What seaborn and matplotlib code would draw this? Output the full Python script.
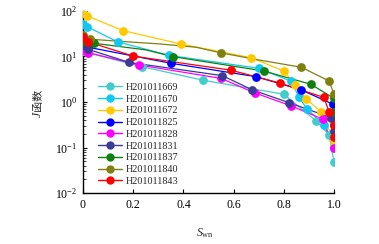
import matplotlib
matplotlib.use("Agg")
import matplotlib.pyplot as plt
import numpy as np
import seaborn as sns
from matplotlib.lines import Line2D
from matplotlib.ticker import FixedLocator, LogLocator, NullFormatter

NAMES = ["H201011669", "H201011670", "H201011672", "H201011825", "H201011828",
         "H201011831", "H201011837", "H201011840", "H201011843"]
COLORS = ["#44CCCC", "#11C8F0", "#FFC800", "#0000FF", "#FF00FF",
          "#3A3A99", "#108010", "#808010", "#FF0000"]

# Swn / J-function samples; MARKS = indices drawn with a dot
S_1669 = [0, 0.02, 0.234, 0.48, 0.80, 0.93, 0.98, 1.0]
J_1669 = [13, 12, 6.0, 3.0, 1.48, 0.38, 0.19, 0.048]
S_1670 = [0, 0.017, 0.138, 0.343, 0.70, 0.83, 0.86, 0.892, 0.96, 1.0]
J_1670 = [52, 45, 21, 10.6, 5.5, 2.85, 1.3, 0.70, 0.32, 0.10]
S_1672 = [0, 0.016, 0.16, 0.39, 0.67, 0.80, 0.845, 0.89, 0.95, 1.0]
J_1672 = [89, 78, 37, 18.8, 9.4, 4.8, 2.4, 1.16, 0.60, 0.14]
S_1825 = [0, 0.02, 0.35, 0.69, 0.87, 0.995, 0.998, 1.0]
J_1825 = [18, 16, 7.1, 3.6, 1.84, 0.9, 0.55, 0.31]
S_1828 = [0, 0.02, 0.224, 0.55, 0.685, 0.83, 0.955, 1.0]
J_1828 = [14, 12.2, 6.5, 3.3, 1.58, 0.82, 0.42, 0.10]
S_1831 = [0, 0.02, 0.185, 0.555, 0.675, 0.82, 0.99, 1.0]
J_1831 = [18, 14.4, 7.4, 3.8, 1.84, 0.97, 0.45, 0.23]
S_1837 = [0, 0.045, 0.25, 0.36, 0.72, 0.908, 1.0, 1.0]
J_1837 = [22, 19.5, 14, 9.9, 4.8, 2.45, 1.2, 0.61]
S_1840 = [0, 0.028, 0.15, 0.30, 0.45, 0.55, 0.70, 0.87, 0.98, 1.0]
J_1840 = [29, 24, 21.5, 19, 16, 12, 8.4, 5.8, 2.9, 1.5]
S_1843 = [0, 0.02, 0.2, 0.59, 0.785, 0.96, 0.98, 1.0, 1.0]
J_1843 = [27, 21, 10.2, 5.0, 2.6, 1.26, 0.61, 0.31, 0.17]

SWN = [S_1669, S_1670, S_1672, S_1825, S_1828, S_1831, S_1837, S_1840, S_1843]
JFN = [J_1669, J_1670, J_1672, J_1825, J_1828, J_1831, J_1837, J_1840, J_1843]
MARKS = [
    [0, 1, 2, 3, 4, 5, 6, 7],
    list(range(10)),
    list(range(10)),
    list(range(8)),
    list(range(8)),
    list(range(8)),
    [0, 1, 3, 4, 5, 6, 7],
    [0, 1, 5, 7, 8, 9],
    list(range(9)),
]

X_TICKS = [0, 0.2, 0.4, 0.6, 0.8, 1.0]
X_LABELS = ["0", "0.2", "0.4", "0.6", "0.8", "1.0"]

sns.set_theme(style="ticks")
plt.rcParams["font.family"] = ["Liberation Serif", "Noto Sans CJK SC"]
plt.rcParams["mathtext.fontset"] = "custom"
plt.rcParams["mathtext.rm"] = "Liberation Serif"
plt.rcParams["mathtext.it"] = "Liberation Serif:italic"

fig = plt.figure(figsize=(3.79, 2.44), dpi=100)
ax = fig.add_axes([83 / 379, 51 / 244, 251 / 379, 182 / 244])

for s, j, mk, c in zip(SWN, JFN, MARKS, COLORS):
    s = np.asarray(s)
    j = np.asarray(j)
    sns.lineplot(x=s, y=j, ax=ax, color=c, linewidth=0.9, sort=False, estimator=None)
    sns.scatterplot(x=s[mk], y=j[mk], ax=ax, color=c, s=40, linewidth=0, zorder=3)

ax.set_yscale("log")
ax.set_xlim(0, 1.0)
ax.set_ylim(1e-2, 1e2)
ax.xaxis.set_major_locator(FixedLocator(X_TICKS))
ax.set_xticklabels(X_LABELS)
ax.yaxis.set_major_locator(LogLocator(base=10, numticks=10))
ax.yaxis.set_minor_locator(LogLocator(base=10, subs=np.arange(2, 10), numticks=20))
ax.yaxis.set_minor_formatter(NullFormatter())
ax.tick_params(axis="both", which="major", direction="in", length=3, width=0.8,
               labelsize=8.5, colors="black", pad=4)
ax.tick_params(axis="y", which="minor", direction="in", length=1.8, width=0.6)
ax.tick_params(axis="x", which="minor", bottom=False)
sns.despine(ax=ax)
for sp in ("left", "bottom"):
    ax.spines[sp].set_color("black")
    ax.spines[sp].set_linewidth(1.0)
ax.set_xlabel("")
ax.set_ylabel("")

handles = [Line2D([], [], color=c, marker="o", markersize=6, markeredgewidth=0, linewidth=1.0)
           for c in COLORS]
ax.legend(handles, NAMES, loc="upper left", bbox_to_anchor=(0.06, 0.605), frameon=False,
          fontsize=7.3, handlelength=2.4, handletextpad=0.3, labelspacing=0.26,
          borderpad=0, borderaxespad=0)

fig.text(205 / 379, 1 - 233 / 244, r"$S_{\mathrm{wn}}$", ha="center", va="center", fontsize=8.5)
fig.text(38 / 379, 1 - 114.5 / 244, "J", style="italic", rotation=90, ha="center", va="center",
         fontsize=8.5, family="Liberation Serif")
fig.text(38 / 379, 1 - 99.5 / 244, "函数", rotation=90, ha="center", va="center",
         fontsize=8, family=["Noto Sans CJK SC"])

fig.savefig("out.png", dpi=100)
